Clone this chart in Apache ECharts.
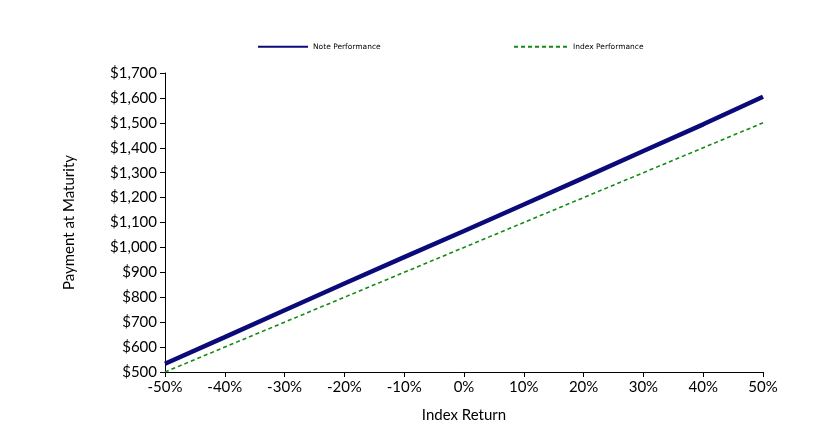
<!DOCTYPE html>
<html>
<head>
<meta charset="utf-8">
<script src="https://cdn.jsdelivr.net/npm/echarts@6/dist/echarts.min.js"></script>
<style>html,body{margin:0;padding:0;background:#fff}#c{width:826px;height:442px}</style>
</head>
<body>
<div id="c"></div>
<script>
var indexReturns = [-50, -40, -30, -20, -10, 0, 10, 20, 30, 40, 50];
var notePerformance = [533, 640, 748, 855, 961, 1066, 1172, 1279, 1387, 1494, 1605];
var indexPerformance = [500, 600, 700, 800, 900, 1000, 1100, 1200, 1300, 1400, 1500];
var seriesNames = ['Note Performance', 'Index Performance'];

function pairs(xs, ys) { return xs.map(function (x, i) { return [x, ys[i]]; }); }

var chart = echarts.init(document.getElementById('c'), null, {renderer: 'canvas'});
var axisFont = 'Lato, "Open Sans", sans-serif';
var legendText = {fontSize: 7.5, fontFamily: '"DejaVu Sans", sans-serif', color: '#000'};
chart.setOption({
  animation: false,
  backgroundColor: '#fff',
  legend: [
    {data: [seriesNames[0]], left: 252, top: 37, itemWidth: 50, itemHeight: 12, itemGap: 8,
     itemStyle: {opacity: 0}, textStyle: legendText},
    {data: [seriesNames[1]], left: 508, top: 37, itemWidth: 54, itemHeight: 12, itemGap: 6,
     itemStyle: {opacity: 0}, textStyle: legendText}
  ],
  grid: {left: 165, right: 63, top: 73, bottom: 70, containLabel: false},
  xAxis: {
    type: 'value', min: -50, max: 50, interval: 10,
    name: 'Index Return', nameLocation: 'middle', nameGap: 36,
    nameTextStyle: {fontSize: 15, fontFamily: axisFont, color: '#000'},
    axisLine: {show: true, onZero: false, lineStyle: {color: '#000', width: 1}},
    axisTick: {show: true, length: 5, lineStyle: {color: '#000'}},
    axisLabel: {formatter: function (v) { return v + '%'; }, fontSize: 15, fontFamily: axisFont, color: '#000', margin: 8},
    splitLine: {show: false}
  },
  yAxis: {
    type: 'value', min: 500, max: 1700, interval: 100,
    name: 'Payment at Maturity', nameLocation: 'middle', nameGap: 88, nameRotate: 90,
    nameTextStyle: {fontSize: 15, fontFamily: axisFont, color: '#000'},
    axisLine: {show: true, onZero: false, lineStyle: {color: '#000', width: 1}},
    axisTick: {show: true, length: 5, lineStyle: {color: '#000'}},
    axisLabel: {formatter: function (v) { return '$' + v.toLocaleString('en-US'); }, fontSize: 15, fontFamily: axisFont, color: '#000', margin: 8},
    splitLine: {show: false}
  },
  series: [
    {name: seriesNames[0], type: 'line', data: pairs(indexReturns, notePerformance), symbol: 'none',
     lineStyle: {color: '#0a0a7a', width: 4.5}, itemStyle: {color: '#0a0a7a'}, z: 3},
    {name: seriesNames[1], type: 'line', data: pairs(indexReturns, indexPerformance), symbol: 'none',
     lineStyle: {color: '#138a13', width: 1.6, type: [4, 3]}, itemStyle: {color: '#138a13'}, z: 2}
  ]
});
</script>
</body>
</html>
